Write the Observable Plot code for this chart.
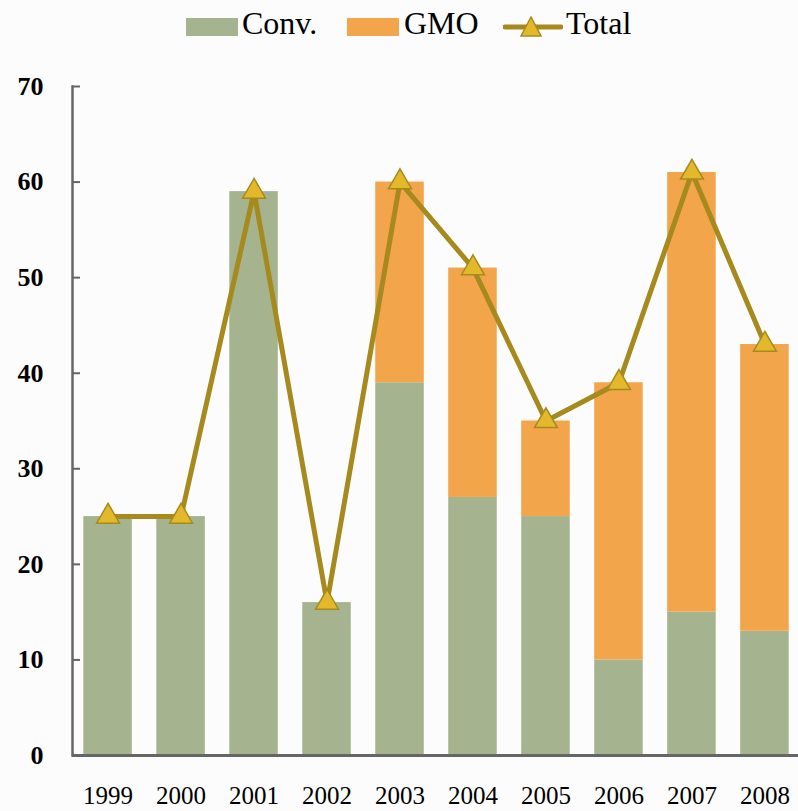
<!DOCTYPE html>
<html>
<head>
<meta charset="utf-8">
<script src="https://cdn.jsdelivr.net/npm/d3@7"></script>
<script src="https://cdn.jsdelivr.net/npm/@observablehq/plot@0.6"></script>
<style>
  html, body { margin: 0; padding: 0; background: #fcfcfc; }
  #wrap { width: 798px; height: 811px; position: relative; overflow: hidden; }
  #legend { position: relative; height: 50px; width: 798px; font-family: "Liberation Serif", serif; font-size: 32px; color: #000; }
  .sw { position: absolute; }
  .lt { position: absolute; top: 5px; line-height: 36px; }
  g[aria-label="y-axis tick label"] text { font-size: 26px; font-weight: bold; }
  g[aria-label="x-axis tick label"] text { font-size: 25px; }
</style>
</head>
<body>
<div id="wrap">
  <div id="legend"></div>
  <div id="chart"></div>
</div>
<script>
const years = ["1999","2000","2001","2002","2003","2004","2005","2006","2007","2008"];
const conv  = [25, 25, 59, 16, 39, 27, 25, 10, 15, 13];
const gmo   = [0, 0, 0, 0, 21, 24, 10, 29, 46, 30];
const total = [25, 25, 59, 16, 60, 51, 35, 39, 61, 43];
const seriesNames = ["Conv.", "GMO"];
const yTicks = [0, 10, 20, 30, 40, 50, 60, 70];

const colConv = "#a5b48f", colGmo = "#f2a54a", colLine = "#a68a1e", colTri = "#e3b92b";

// legend
const lg = document.getElementById("legend");
lg.innerHTML = `
  <div class="sw" style="left:186px;top:18px;width:52px;height:18px;background:${colConv}"></div>
  <div class="lt" style="left:242px">${seriesNames[0]}</div>
  <div class="sw" style="left:347px;top:18px;width:52px;height:18px;background:${colGmo}"></div>
  <div class="lt" style="left:404px">${seriesNames[1]}</div>
  <svg class="sw" style="left:503px;top:14px" width="60" height="26">
    <line x1="2" y1="13" x2="58" y2="13" stroke="${colLine}" stroke-width="5" stroke-linecap="round"/>
    <path d="M28,3 L38,22 L18,22 Z" fill="${colTri}" stroke="${colLine}" stroke-width="1.5"/>
  </svg>
  <div class="lt" style="left:566px">Total</div>`;

const stacked = [];
years.forEach((y, i) => {
  stacked.push({year: y, series: seriesNames[0], value: conv[i]});
  stacked.push({year: y, series: seriesNames[1], value: gmo[i]});
});
const totals = years.map((y, i) => ({year: y, total: total[i]}));

const chart = Plot.plot({
  width: 798,
  height: 761,
  marginLeft: 72,
  marginRight: -2,
  marginTop: 36,
  marginBottom: 56,
  style: {background: "transparent", fontFamily: "Liberation Serif, serif", overflow: "visible"},
  x: {domain: years, paddingInner: 0.335, paddingOuter: 0.155, round: false, label: null},
  y: {domain: [0, 70], label: null},
  color: {domain: seriesNames, range: [colConv, colGmo]},
  marks: [
    Plot.barY(stacked, {x: "year", y: "value", fill: "series", order: seriesNames}),
    Plot.frame({anchor: "left", stroke: "#666", strokeWidth: 2.5}),
    Plot.ruleY([0], {stroke: "#666", strokeWidth: 3}),
    Plot.axisY({ticks: yTicks, tickSize: -8, stroke: "#666", strokeWidth: 2, text: null}),
    Plot.axisY({ticks: yTicks, tickSize: 0, tickPadding: 29, fill: "#000"}),
    Plot.axisX({tickSize: 0, tickPadding: 31, fill: "#000"}),
    Plot.line(totals, {x: "year", y: "total", stroke: colLine, strokeWidth: 5}),
    Plot.dot(totals, {x: "year", y: "total", symbol: "triangle", r: 8.5, fill: colTri, stroke: colLine, strokeWidth: 1.5})
  ]
});
document.getElementById("chart").appendChild(chart);
</script>
</body>
</html>
